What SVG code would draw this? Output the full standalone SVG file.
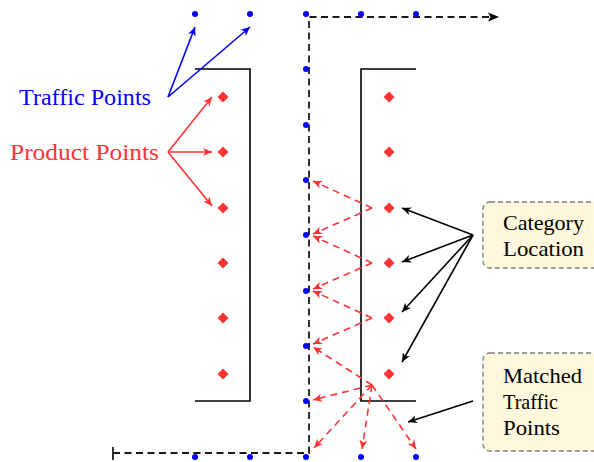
<svg xmlns="http://www.w3.org/2000/svg" width="594" height="462" viewBox="0 0 594 462">
<style>
.shelf{fill:none;stroke:#000;stroke-width:1.6}
.path{fill:none;stroke:#1a1a1a;stroke-width:1.8;stroke-dasharray:7 4.5}
.tp{fill:#0000ff}
.pp{fill:#ff3333}
.blue{stroke:#0000ff;stroke-width:1.6;fill:none;marker-end:url(#ab)}
.red{stroke:#ff3333;stroke-width:1.6;fill:none;marker-end:url(#ar)}
.rdash{stroke:#ff3333;stroke-width:1.6;fill:none;stroke-dasharray:7 5;marker-end:url(#ar)}
.blk{stroke:#000;stroke-width:1.6;fill:none;marker-end:url(#ak)}
.box{fill:#fff8dc;stroke:#808080;stroke-width:1.3;stroke-dasharray:5 3}
.lbl{font-family:"Liberation Serif","DejaVu Serif",serif;font-size:21px;fill:#000}
.big{font-family:"Liberation Serif","DejaVu Serif",serif;font-size:23px}
</style>
<defs>
<marker id="ab" viewBox="-10 -5 11 10" refX="0" refY="0" markerWidth="11" markerHeight="10" markerUnits="userSpaceOnUse" orient="auto"><path d="M0,0 L-9,-4 L-6.5,0 L-9,4 Z" fill="#0000ff"/></marker>
<marker id="ar" viewBox="-10 -5 11 10" refX="0" refY="0" markerWidth="11" markerHeight="10" markerUnits="userSpaceOnUse" orient="auto"><path d="M0,0 L-9,-4 L-6.5,0 L-9,4 Z" fill="#ff3333"/></marker>
<marker id="ak" viewBox="-10 -5 11 10" refX="0" refY="0" markerWidth="11" markerHeight="10" markerUnits="userSpaceOnUse" orient="auto"><path d="M0,0 L-9,-4 L-6.5,0 L-9,4 Z" fill="#000"/></marker>
<path id="dia" d="M0,-5.5 L5.5,0 L0,5.5 L-5.5,0 Z"/>
</defs>

<g id="walkpath">
<path class="path" d="M113,453 L309,453 L309,17 L490,17"/>
<line x1="113" y1="447" x2="113" y2="460" stroke="#1a1a1a" stroke-width="1.8"/>
<path d="M499,17 L488,12.5 L490.5,17 L488,21.5 Z" fill="#000"/>
</g>

<g id="shelf-left"><path class="shelf" d="M195,69 L250,69 L250,401 L195,401"/></g>
<g id="shelf-right"><path class="shelf" d="M416,69 L361,69 L361,401 L416,401"/></g>

<g id="traffic-points" class="tp">
<circle cx="195" cy="14" r="3"/><circle cx="250" cy="14" r="3"/><circle cx="306" cy="14" r="3"/><circle cx="361" cy="14" r="3"/><circle cx="416" cy="14" r="3"/>
<circle cx="306" cy="69" r="3"/><circle cx="306" cy="125" r="3"/><circle cx="306" cy="180" r="3"/><circle cx="306" cy="235" r="3"/><circle cx="306" cy="291" r="3"/><circle cx="306" cy="346" r="3"/><circle cx="306" cy="401" r="3"/>
<circle cx="195" cy="457" r="3"/><circle cx="250" cy="457" r="3"/><circle cx="306" cy="457" r="3"/><circle cx="361" cy="457" r="3"/><circle cx="416" cy="457" r="3"/>
</g>

<g id="product-points" class="pp">
<use href="#dia" x="223" y="97"/><use href="#dia" x="223" y="152"/><use href="#dia" x="223" y="208"/><use href="#dia" x="223" y="263"/><use href="#dia" x="223" y="318"/><use href="#dia" x="223" y="374"/>
<use href="#dia" x="389" y="97"/><use href="#dia" x="389" y="152"/><use href="#dia" x="389" y="208"/><use href="#dia" x="389" y="263"/><use href="#dia" x="389" y="318"/><use href="#dia" x="389" y="374"/>
</g>

<g id="label-traffic"><text class="big" x="19" y="105" fill="#0000ff" textLength="132" lengthAdjust="spacingAndGlyphs">Traffic Points</text></g>
<g id="label-product"><text class="big" x="10" y="160" fill="#ff3333" textLength="149" lengthAdjust="spacingAndGlyphs">Product Points</text></g>

<g id="box-category">
<rect class="box" x="483" y="202" width="130" height="66" rx="7"/>
<text class="lbl" x="503" y="230" textLength="81" lengthAdjust="spacingAndGlyphs">Category</text>
<text class="lbl" x="503" y="256" textLength="81" lengthAdjust="spacingAndGlyphs">Location</text>
</g>
<g id="box-matched">
<rect class="box" x="483" y="353" width="130" height="98" rx="7"/>
<text class="lbl" x="503" y="383" textLength="79" lengthAdjust="spacingAndGlyphs">Matched</text>
<text class="lbl" x="503" y="409" textLength="55" lengthAdjust="spacingAndGlyphs">Traffic</text>
<text class="lbl" x="503" y="435" textLength="57" lengthAdjust="spacingAndGlyphs">Points</text>
</g>

<g id="connectors">
<path class="blue" d="M168,97 L195,27"/>
<path class="blue" d="M168,97 L250,27"/>
<path class="red" d="M168,152 L212,97"/>
<path class="red" d="M168,152 L212,152"/>
<path class="red" d="M168,152 L212,206"/>
<path class="rdash" d="M372,208 L313,181"/>
<path class="rdash" d="M372,208 L313,234"/>
<path class="rdash" d="M372,263 L313,236"/>
<path class="rdash" d="M372,263 L313,289"/>
<path class="rdash" d="M372,318 L313,291"/>
<path class="rdash" d="M372,318 L313,344"/>
<path class="rdash" d="M372,385 L313,347"/>
<path class="rdash" d="M372,385 L313,400"/>
<path class="rdash" d="M372,385 L314,448"/>
<path class="rdash" d="M372,385 L362,449"/>
<path class="rdash" d="M372,385 L416,449"/>
<path class="blk" d="M473,235 L402,208"/>
<path class="blk" d="M473,235 L402,262"/>
<path class="blk" d="M473,235 L402,312"/>
<path class="blk" d="M473,235 L402,362"/>
<path class="blk" d="M473,401 L408,422"/>
</g>
</svg>
